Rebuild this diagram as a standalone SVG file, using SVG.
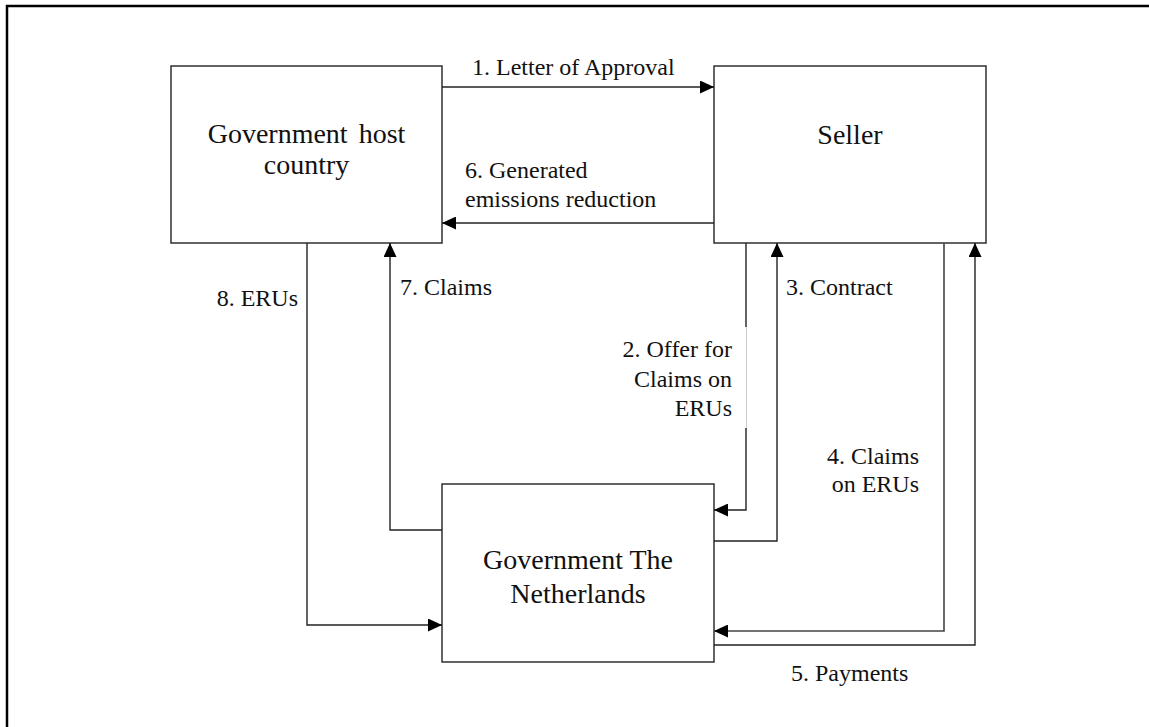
<svg xmlns="http://www.w3.org/2000/svg" width="1149" height="727" viewBox="0 0 1149 727">
<style>
.box{fill:#fff;stroke:#222;stroke-width:1.4}
.node{font-family:"Liberation Serif","Times New Roman",serif;font-size:28px;fill:#111;text-anchor:middle}
.lbl{font-family:"Liberation Serif","Times New Roman",serif;font-size:24px;fill:#111}
.c{fill:none;stroke:#222;stroke-width:1.4}
.g{fill:none;stroke:#444;stroke-width:1.6}
</style>
<defs>
<marker id="ah" markerUnits="userSpaceOnUse" markerWidth="14" markerHeight="13" refX="14" refY="6.5" orient="auto">
<path d="M0,0 L14,6.5 L0,13 Z" fill="#000"/>
</marker>
</defs>
<rect x="0" y="0" width="1149" height="727" fill="#fff"/>
<rect x="7" y="6" width="1170" height="740" fill="none" stroke="#000" stroke-width="2.5"/>
<g id="host">
<rect class="box" x="171" y="66" width="271" height="177"/>
<text class="node" x="306.5" y="143" word-spacing="4">Government host</text>
<text class="node" x="306.5" y="174">country</text>
</g>
<g id="seller">
<rect class="box" x="714" y="66" width="272" height="177" stroke="#333"/>
<text class="node" x="850" y="144">Seller</text>
</g>
<g id="netherlands">
<rect class="box" x="442" y="484" width="272" height="178"/>
<text class="node" x="578" y="569">Government The</text>
<text class="node" x="578" y="603">Netherlands</text>
</g>
<g id="connectors">
<path class="c" d="M442,87 L714,87" marker-end="url(#ah)"/>
<path class="c" d="M714,223 L442,223" marker-end="url(#ah)"/>
<path class="c" d="M307,243 L307,625 L442,625" marker-end="url(#ah)"/>
<path class="c" d="M442,530 L390,530 L390,243" marker-end="url(#ah)"/>
<path class="c" d="M746,243 L746,510 L714,510" marker-end="url(#ah)"/>
<path class="c" d="M714,541 L777,541 L777,243" marker-end="url(#ah)"/>
<path class="g" d="M944,243 L944,631 L714,631" marker-end="url(#ah)"/>
<path class="c" d="M714,645 L975,645 L975,243" marker-end="url(#ah)"/>
<rect x="690" y="327" width="56" height="101" fill="#fff"/>
<line x1="746.5" y1="327" x2="746.5" y2="428" stroke="#ccc" stroke-width="1"/>
</g>
<g id="labels">
<text class="lbl" x="472" y="75">1. Letter of Approval</text>
<text class="lbl" x="465" y="178">6. Generated</text>
<text class="lbl" x="465" y="207">emissions reduction</text>
<text class="lbl" x="400" y="295">7. Claims</text>
<text class="lbl" x="298" y="306" text-anchor="end">8. ERUs</text>
<text class="lbl" x="786" y="295">3. Contract</text>
<text class="lbl" x="732" y="357" text-anchor="end">2. Offer for</text>
<text class="lbl" x="732" y="387" text-anchor="end">Claims on</text>
<text class="lbl" x="732" y="416" text-anchor="end">ERUs</text>
<text class="lbl" x="919" y="464" text-anchor="end">4. Claims</text>
<text class="lbl" x="919" y="492" text-anchor="end">on ERUs</text>
<text class="lbl" x="791" y="681">5. Payments</text>
</g>
</svg>
